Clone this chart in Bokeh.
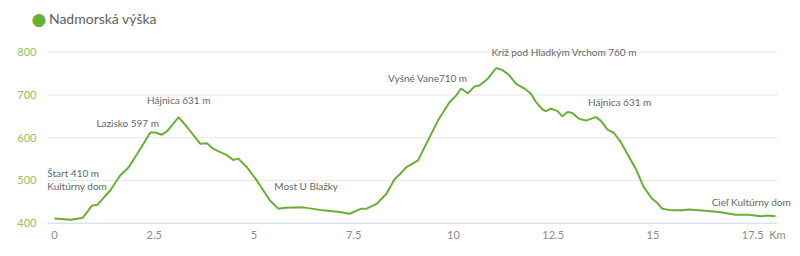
from bokeh.plotting import figure
from bokeh.models import Range1d, FixedTicker, Label, ColumnDataSource, LabelSet
from bokeh.core.properties import value
from bokeh.embed import file_html
from bokeh.resources import INLINE

# distance (km) and elevation (m)
km = [0.0, 0.4, 0.7, 0.94, 1.07, 1.4, 1.65, 1.86, 2.07, 2.23, 2.4, 2.53, 2.69, 2.82,
      3.11, 3.32, 3.65, 3.82, 3.98, 4.32, 4.48, 4.61, 4.82, 5.07, 5.4, 5.61, 5.78,
      6.23, 6.73, 7.15, 7.4, 7.69, 7.82, 8.07, 8.32, 8.53, 8.65, 8.82, 9.11, 9.32,
      9.61, 9.9, 10.07, 10.19, 10.36, 10.53, 10.65, 10.86, 11.07, 11.23, 11.4, 11.57,
      11.78, 11.94, 12.07, 12.23, 12.32, 12.44, 12.61, 12.73, 12.86, 12.98, 13.15,
      13.32, 13.57, 13.69, 13.86, 14.02, 14.19, 14.36, 14.57, 14.77, 14.98, 15.11,
      15.23, 15.48, 15.73, 15.9, 16.15, 16.65, 17.07, 17.4, 17.69, 17.86, 18.07]
elev = [411, 408, 412, 441, 443, 477, 512, 531, 562, 586, 612, 612, 607, 615,
        648, 625, 586, 587, 574, 559, 548, 551, 531, 500, 453, 434, 436,
        437, 430, 426, 422, 434, 434, 445, 469, 504, 514, 531, 547, 586,
        640, 683, 699, 715, 704, 720, 722, 738, 763, 758, 746, 726,
        715, 703, 683, 666, 662, 668, 662, 650, 660, 658, 644,
        640, 648, 640, 619, 611, 590, 562, 527, 484, 457, 447,
        434, 430, 430, 432, 430, 426, 420, 420, 416, 418, 416]

x_ticks = [0, 2.5, 5, 7.5, 10, 12.5, 15, 17.5]
x_tick_labels = ["0", "2.5", "5", "7.5", "10", "12.5", "15", "17.5"]
x_unit = "Km"
y_ticks = [400, 500, 600, 700, 800]

ann_text = ["Štart 410 m", "Kultúrny dom", "Lazisko 597 m", "Hájnica 631 m",
            "Most U Blažky", "Vyšné Vane710 m", "Kríž pod Hladkým Vrchom 760 m",
            "Hájnica 631 m", "Cieľ Kultúrny dom"]
ann_x = [-0.18, -0.18, 1.05, 2.32, 5.51, 8.36, 10.95, 13.37, 16.47]
ann_y = [518, 486, 634, 687, 486, 739, 800, 683, 449]

series_name = "Nadmorská výška"
line_color = "#66b032"
font = "Lato"

# plotting area extent (km) used for grid lines and axis line
grid_x0, grid_x1 = -0.175, 18.12

p = figure(width=800, height=256, output_backend="svg", toolbar_location=None,
           x_range=Range1d(-0.6015, 18.697), y_range=Range1d(394.6, 920.9),
           min_border_left=30, min_border_right=0, min_border_top=0,
           min_border_bottom=31)
p.outline_line_color = None
p.background_fill_color = "white"
p.border_fill_color = "white"

# grid lines and axis line limited to the plotting area
p.segment(x0=[grid_x0] * len(y_ticks), x1=[grid_x1] * len(y_ticks),
          y0=y_ticks, y1=y_ticks,
          line_color=["#ccd6eb"] + ["#e6e6e6"] * (len(y_ticks) - 1), line_width=1)

p.line(km, elev, line_color=line_color, line_width=2)

unit_pos = 18.12
p.xaxis.ticker = FixedTicker(ticks=x_ticks + [unit_pos])
overrides = {t: l for t, l in zip(x_ticks, x_tick_labels)}
overrides[unit_pos] = x_unit
p.xaxis.major_label_overrides = overrides
p.xaxis.axis_line_color = None
p.xaxis.major_tick_line_color = None
p.xaxis.minor_tick_line_color = None
p.xaxis.major_tick_out = 0
p.xaxis.major_tick_in = 0
p.xaxis.major_label_text_color = "#8a8a8a"
p.xaxis.major_label_text_font = font
p.xaxis.major_label_text_font_size = "11px"
p.xaxis.major_label_standoff = 2

p.yaxis.ticker = FixedTicker(ticks=y_ticks)
p.yaxis.axis_line_color = None
p.yaxis.major_tick_line_color = None
p.yaxis.minor_tick_line_color = None
p.yaxis.major_tick_out = 0
p.yaxis.major_tick_in = 0
p.yaxis.major_label_text_color = "#8cc45a"
p.yaxis.major_label_text_font = font
p.yaxis.major_label_text_font_size = "11px"
p.yaxis.major_label_standoff = -6

p.xgrid.grid_line_color = None
p.ygrid.grid_line_color = None

src = ColumnDataSource(dict(x=ann_x, y=ann_y, t=ann_text))
p.add_layout(LabelSet(x="x", y="y", text="t", source=src, text_font=value(font),
                      text_font_size=value("10px"), text_color="#666666",
                      text_baseline="middle", text_align="left"))

p.add_layout(Label(x=-0.393, y=878, text="●",
                   text_font="DejaVu Sans", text_font_size="17px",
                   text_color=line_color, text_baseline="middle", text_align="center"))
p.add_layout(Label(x=-0.14, y=878, text=series_name,
                   text_font=font, text_font_size="14px",
                   text_color="#606060", text_baseline="middle", text_align="left"))

open("out.html", "w").write(file_html(p, INLINE))
